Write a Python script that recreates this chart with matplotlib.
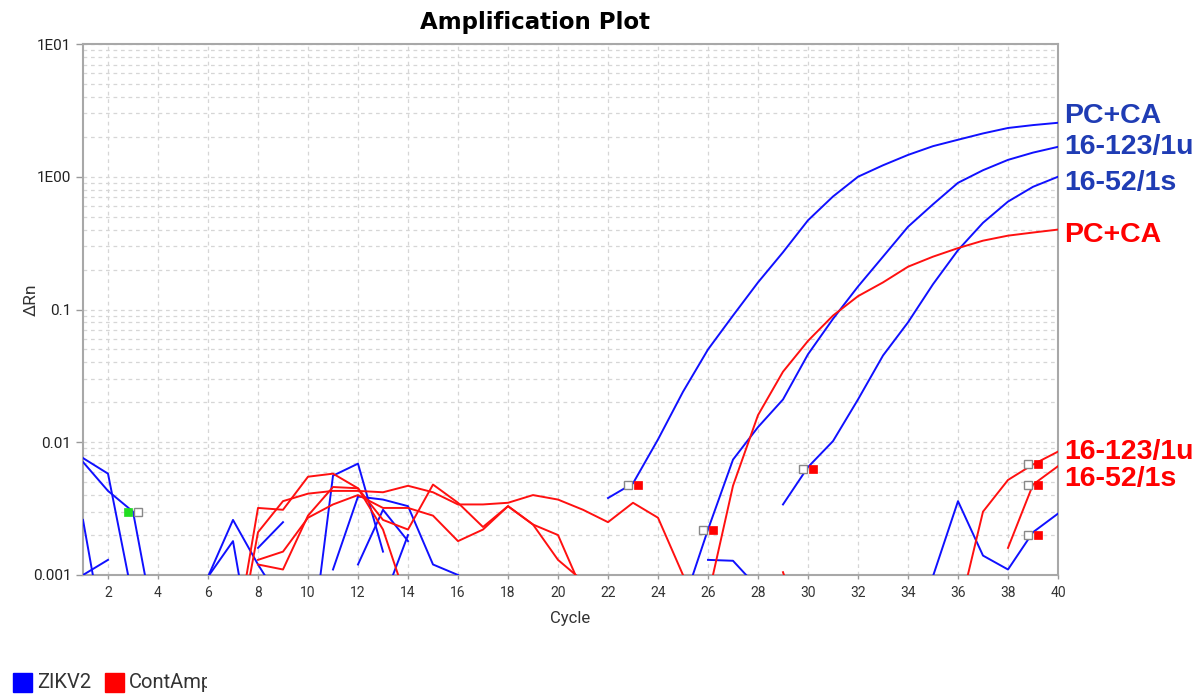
import numpy as np
import matplotlib.pyplot as plt
from matplotlib.patches import Rectangle
from matplotlib.transforms import Bbox, ScaledTranslation
from matplotlib.ticker import LogLocator, NullFormatter, FixedLocator, FixedFormatter

# ---- data (start cycle, delta Rn per cycle) ----
# ZIKV2 (blue) amplification curves
zikv_pcca_start = 22
zikv_pcca = [0.0038, 0.0049, 0.0105, 0.024, 0.05, 0.09, 0.16, 0.27, 0.47, 0.71,
             1.0, 1.22, 1.46, 1.7, 1.9, 2.12, 2.33, 2.45, 2.55]
zikv_123_start = 25
zikv_123 = [0.0006, 0.0022, 0.0074, 0.013, 0.021, 0.046, 0.085, 0.149, 0.25, 0.42,
            0.62, 0.9, 1.12, 1.34, 1.52, 1.68]
zikv_52_start = 29
zikv_52 = [0.0034, 0.0065, 0.0102, 0.021, 0.045, 0.08, 0.155, 0.28, 0.45, 0.65, 0.84, 1.0]

# ZIKV2 noise / background traces
zikv_noise = [
    (1, [0.0076, 0.0058, 0.00065]),
    (1, [0.0071, 0.0043, 0.0030, 0.0003]),
    (1, [0.0026, 0.00023]),
    (1, [0.001, 0.0013]),
    (6, [0.00097, 0.0026, 0.0012, 0.0006]),
    (6, [0.00097, 0.0018, 0.00015]),
    (8, [0.0016, 0.0025]),
    (10, [0.00018, 0.0056, 0.0069, 0.0015]),
    (11, [0.0011, 0.0039, 0.0037, 0.0033, 0.0012, 0.001]),
    (12, [0.0012, 0.0031, 0.0018]),
    (13, [0.00063, 0.002]),
    (26, [0.0013, 0.00128, 0.0008]),
    (35, [0.00098, 0.0036, 0.0014, 0.0011, 0.0021, 0.0029]),
]

# ContAmp (red) amplification curves
cont_pcca_start = 26
cont_pcca = [0.00068, 0.0047, 0.016, 0.034, 0.058, 0.09, 0.126, 0.16, 0.21, 0.25,
             0.29, 0.33, 0.36, 0.38, 0.40]
cont_123_start = 36
cont_123 = [0.00049, 0.003, 0.0052, 0.0068, 0.0085]
cont_52_start = 38
cont_52 = [0.0016, 0.0048, 0.0066]

# ContAmp noise traces
cont_noise = [
    (7, [0.00025, 0.0032, 0.0031, 0.0055, 0.0058, 0.0045, 0.0022, 0.0006]),
    (7, [0.0002, 0.0021, 0.0036, 0.0041, 0.0043, 0.0043, 0.0042, 0.0047, 0.0042,
         0.0034, 0.0034, 0.0035, 0.0040, 0.0037, 0.0031, 0.0025, 0.0035, 0.0027, 0.001]),
    (8, [0.0013, 0.0015, 0.0027, 0.0034, 0.0040, 0.0032, 0.0032, 0.0028, 0.0018,
         0.0022, 0.0033, 0.0024, 0.0020, 0.00074]),
    (8, [0.0012, 0.0011, 0.0028, 0.0046, 0.0045, 0.0026, 0.0022, 0.0048, 0.0035,
         0.0023, 0.0033, 0.0024, 0.0013, 0.0009]),
    (29, [0.00105, 0.0003]),
]

# threshold crossing markers (Ct)
ct_cycles = [3, 23, 26, 30, 39, 39, 39]
ct_values = [0.0030, 0.0048, 0.0022, 0.0063, 0.0068, 0.0048, 0.0020]
ct_fill = ['#22dd22', 'red', 'red', 'red', 'red', 'red', 'red']

y_ticks = [0.001, 0.01, 0.1, 1, 10]
y_ticklabels = ['0.001', '0.01', '0.1', '1E00', '1E01']

label_texts = ['PC+CA', '16-123/1u', '16-52/1s', 'PC+CA', '16-123/1u', '16-52/1s']
label_colors = ['#1f3cb4', '#1f3cb4', '#1f3cb4', 'red', 'red', 'red']
label_ypix = [116, 147, 183, 235, 452, 479]

legend_names = ['ZIKV2', 'ContAmp']
legend_colors = ['blue', 'red']

# ---- figure ----
W, H = 1204, 694
fig = plt.figure(figsize=(W / 100, H / 100), dpi=100)
ax = fig.add_axes([83 / W, 1 - 575 / H, (1058 - 83) / W, (575 - 44) / H])
ax.set_yscale('log')
ax.set_xlim(1, 40)
ax.set_ylim(0.001, 10)

BLUE = '#1010ff'
RED = '#ff1010'
lw = 1.4


def trace(start, vals, color):
    x = np.arange(start, start + len(vals))
    ax.plot(x, vals, color=color, lw=lw, zorder=3)


for start, vals in zikv_noise:
    trace(start, vals, BLUE)
for start, vals in cont_noise:
    trace(start, vals, RED)
trace(zikv_pcca_start, zikv_pcca, BLUE)
trace(zikv_123_start, zikv_123, BLUE)
trace(zikv_52_start, zikv_52, BLUE)
trace(cont_pcca_start, cont_pcca, RED)
trace(cont_123_start, cont_123, RED)
trace(cont_52_start, cont_52, RED)

# Ct markers: grey open square on the left, filled square on the right
left = ax.transData + ScaledTranslation(-3.5 / 72, 0, fig.dpi_scale_trans)
right = ax.transData + ScaledTranslation(3.5 / 72, 0, fig.dpi_scale_trans)
for i in range(len(ct_cycles)):
    if i == 0:
        t_open, t_fill = right, left
    else:
        t_open, t_fill = left, right
    ax.plot(ct_cycles[i], ct_values[i], 's', ms=5.5, mfc='white', mec='#888888',
            mew=1.0, transform=t_open, zorder=5)
    ax.plot(ct_cycles[i], ct_values[i], 's', ms=6, mfc=ct_fill[i], mec=ct_fill[i],
            mew=0.5, transform=t_fill, zorder=6)

# axes styling
ax.xaxis.set_major_locator(FixedLocator(range(2, 41, 2)))
ax.yaxis.set_major_locator(FixedLocator(y_ticks))
ax.yaxis.set_major_formatter(FixedFormatter(y_ticklabels))
ax.yaxis.set_minor_locator(LogLocator(base=10, subs=range(2, 10)))
ax.yaxis.set_minor_formatter(NullFormatter())
ax.tick_params(axis='y', which='minor', length=0)
ax.tick_params(axis='y', which='major', length=5, width=1, color='#999999',
               labelsize=11, labelcolor='#222222')
ax.tick_params(axis='x', which='major', length=3, width=1, color='#999999',
               labelsize=10, labelcolor='#333333', pad=5)
for lab in ax.get_xticklabels() + ax.get_yticklabels():
    lab.set_family('Roboto')
ax.grid(True, which='both', axis='y', ls=(0, (3, 3)), color='#d6d6d6', lw=0.9)
ax.grid(True, which='major', axis='x', ls=(0, (3, 3)), color='#d6d6d6', lw=0.9)
ax.set_axisbelow(True)
for s in ax.spines.values():
    s.set_color('#a8a8a8')
    s.set_linewidth(1.5)

ax.set_xlabel('Cycle', family='Roboto', fontsize=12, color='#333333', labelpad=8)
fig.text(31 / W, 1 - 300 / H, 'ΔRn', rotation=90, ha='center', va='center',
         family='Roboto', fontsize=12.5, color='#333333')

fig.text(535 / W, 1 - 22 / H, 'Amplification Plot', ha='center', va='center',
         family='DejaVu Sans', fontweight='bold', fontsize=16.5, color='black')

# curve labels on the right
for txt, col, yp in zip(label_texts, label_colors, label_ypix):
    fig.text(1064 / W, 1 - yp / H, txt, ha='left', va='center', color=col,
             family='Liberation Sans', fontweight='bold', fontsize=20.5)

# legend at bottom left
lx = 13
for name, col in zip(legend_names, legend_colors):
    fig.add_artist(Rectangle((lx / W, 1 - 692 / H), 19 / W, 19 / H, color=col,
                             transform=fig.transFigure))
    t = fig.text((lx + 24) / W, 1 - 683 / H, name, ha='left', va='center',
                 family='Roboto', fontsize=14.5, color='#333333')
    t.set_clip_box(Bbox([[0, 0], [207, H]]))
    t.set_clip_on(True)
    lx += 92

fig.savefig('out.png', dpi=100)
